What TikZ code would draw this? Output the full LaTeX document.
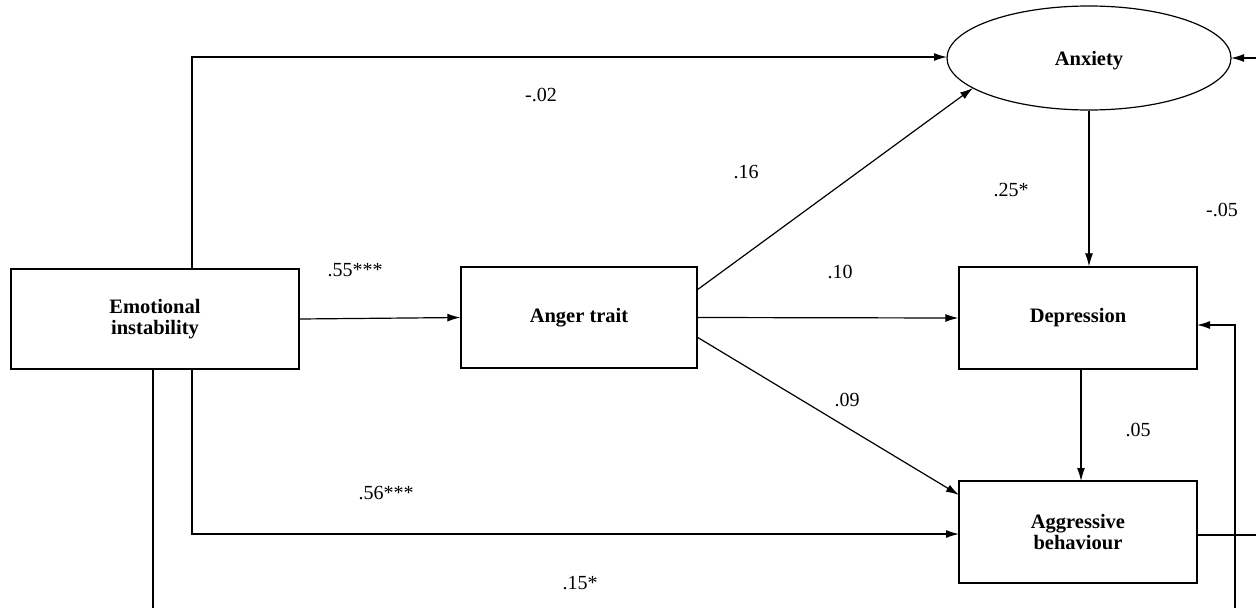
\documentclass[tikz,border=0pt]{standalone}
\usepackage{fontspec}
\setmainfont{Liberation Serif}
\usetikzlibrary{arrows.meta,shapes.geometric}
\begin{document}
\begin{tikzpicture}[x=1pt,y=-1pt,
  box/.style={draw,line width=1.3pt,minimum width=288pt,minimum height=100pt,inner sep=0pt,font=\bfseries\fontsize{20.5}{20.5}\selectfont,align=center},
  arr/.style={line width=1.2pt,-{Latex[length=13pt,width=8pt]}},
  ln/.style={line width=1.2pt},
  lab/.style={font=\fontsize{20}{22}\selectfont,inner sep=0pt}]
\useasboundingbox (0,0) rectangle (1256,608);
\node[box] (ei) at (155,319) {Emotional\\instability};
\node[box,minimum width=236pt,minimum height=101pt] (at) at (579,317.5) {Anger trait};
\node[box,minimum width=238pt,minimum height=102pt] (dep) at (1078,318) {Depression};
\node[box,minimum width=238pt,minimum height=102pt] (agg) at (1078,532) {Aggressive\\behaviour};
\node[draw,ellipse,line width=1.2pt,minimum width=284pt,minimum height=104pt,inner sep=0pt,text depth=0pt,font=\bfseries\fontsize{20.5}{20.5}\selectfont] (anx) at (1089,58) {Anxiety};
% coordinates
\coordinate (eitop) at (192,269);
\coordinate (c1) at (192,57);
\coordinate (eibot) at (192,369);
\coordinate (c2) at (192,534);
\coordinate (eib2) at (153,369);
\coordinate (e1) at (153,608);
\coordinate (anxl) at (947,57);
\coordinate (aggl) at (959,534);
\coordinate (aggr) at (1197,535);
\coordinate (e2) at (1256,535);
\coordinate (e3) at (1235,608);
\coordinate (c3) at (1235,325);
\coordinate (depr) at (1197,325);
\coordinate (e4) at (1256,58);
\coordinate (anxr) at (1231,58);
\coordinate (a1) at (697,290);
\coordinate (a1e) at (973,88);
\coordinate (a2) at (697,337);
\coordinate (a2e) at (959,495);
\coordinate (d1) at (1081,369);
\coordinate (d1e) at (1081,481);
% connectors
\draw[arr] (eitop) -- (c1) -- (anxl);
\draw[arr] (eibot) -- (c2) -- (aggl);
\draw[ln] (eib2) -- (e1);
\draw[arr] (ei.east) -- (at.west);
\draw[arr] (a1) -- (a1e);
\draw[arr] (at.east) -- (dep.west);
\draw[arr] (a2) -- (a2e);
\draw[arr] (anx.south) -- (anx.south |- dep.north);
\draw[arr] (d1) -- (d1e);
\draw[ln] (aggr) -- (e2);
\draw[arr] (e3) -- (c3) -- (depr);
\draw[arr] (e4) -- (anxr);
% labels
\node[lab] (l1) at (541,95) {-.02};
\node[lab] (l2) at (355,270) {.55***};
\node[lab] (l3) at (746,172) {.16};
\node[lab] (l4) at (1011,190) {.25*};
\node[lab] (l5) at (1222,210) {-.05};
\node[lab] (l6) at (840,272) {.10};
\node[lab] (l7) at (847,400) {.09};
\node[lab] (l8) at (1138,430) {.05};
\node[lab] (l9) at (386,493) {.56***};
\node[lab] (l10) at (580,583) {.15*};
\end{tikzpicture}
\end{document}
